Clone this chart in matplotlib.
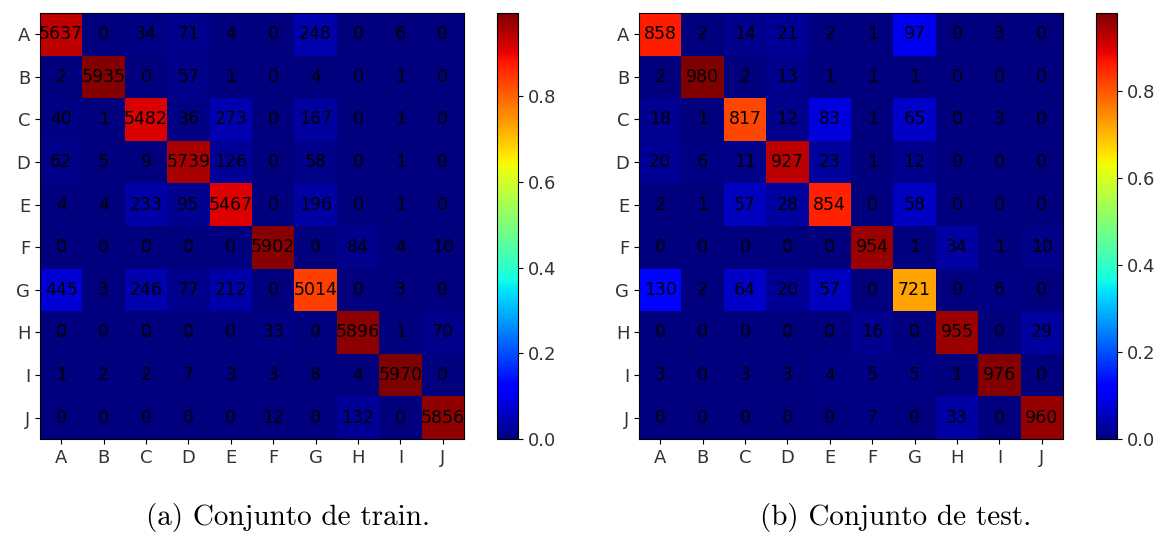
import numpy as np
import matplotlib
matplotlib.use("Agg")
import matplotlib.pyplot as plt

labels = ["A", "B", "C", "D", "E", "F", "G", "H", "I", "J"]

train_counts = [
    [5637, 0, 34, 71, 4, 0, 248, 0, 6, 0],
    [2, 5935, 0, 57, 1, 0, 4, 0, 1, 0],
    [40, 1, 5482, 36, 273, 0, 167, 0, 1, 0],
    [62, 5, 9, 5739, 126, 0, 58, 0, 1, 0],
    [4, 4, 233, 95, 5467, 0, 196, 0, 1, 0],
    [0, 0, 0, 0, 0, 5902, 0, 84, 4, 10],
    [445, 3, 246, 77, 212, 0, 5014, 0, 3, 0],
    [0, 0, 0, 0, 0, 33, 0, 5896, 1, 70],
    [1, 2, 2, 7, 3, 3, 8, 4, 5970, 0],
    [0, 0, 0, 0, 0, 12, 0, 132, 0, 5856],
]

test_counts = [
    [858, 2, 14, 21, 2, 1, 97, 0, 3, 0],
    [2, 980, 2, 13, 1, 1, 1, 0, 0, 0],
    [18, 1, 817, 12, 83, 1, 65, 0, 3, 0],
    [20, 6, 11, 927, 23, 1, 12, 0, 0, 0],
    [2, 1, 57, 28, 854, 0, 58, 0, 0, 0],
    [0, 0, 0, 0, 0, 954, 1, 34, 1, 10],
    [130, 2, 64, 20, 57, 0, 721, 0, 6, 0],
    [0, 0, 0, 0, 0, 16, 0, 955, 0, 29],
    [3, 0, 3, 3, 4, 5, 5, 1, 976, 0],
    [0, 0, 0, 0, 0, 7, 0, 33, 0, 960],
]

captions = ["(a) Conjunto de train.", "(b) Conjunto de test."]

W, H = 1169, 534
fig = plt.figure(figsize=(W / 100, H / 100), dpi=100)


def px(x0, y0, x1, y1):
    return [x0 / W, 1 - y1 / H, (x1 - x0) / W, (y1 - y0) / H]


panels = [
    (train_counts, px(40, 13, 464, 439), px(497, 13, 518, 439), 288),
    (test_counts, px(639, 13, 1063, 439), px(1096, 13, 1117, 439), 896),
]

for (counts, axpos, cbpos, capx), cap in zip(panels, captions):
    cm = np.array(counts, dtype=float)
    norm = cm / cm.sum(axis=1, keepdims=True)
    ax = fig.add_axes(axpos)
    im = ax.imshow(norm, cmap="jet", interpolation="nearest", aspect="auto",
                   vmin=0)
    for i in range(len(labels)):
        for j in range(len(labels)):
            ax.text(j, i, str(counts[i][j]), ha="center", va="center",
                    color="black", fontsize=12.5)
    ax.set_xticks(range(len(labels)))
    ax.set_yticks(range(len(labels)))
    ax.set_xticklabels(labels, fontsize=13, color="#333333")
    ax.set_yticklabels(labels, fontsize=13, color="#333333")
    cax = fig.add_axes(cbpos)
    cb = fig.colorbar(im, cax=cax)
    cb.set_ticks([0.0, 0.2, 0.4, 0.6, 0.8])
    cb.ax.tick_params(labelsize=13, labelcolor="#333333")
    fig.text(capx / W, 1 - 517 / H, cap, ha="center", va="center",
             fontsize=21, family="cmr10")

fig.savefig("out.png", dpi=100)
